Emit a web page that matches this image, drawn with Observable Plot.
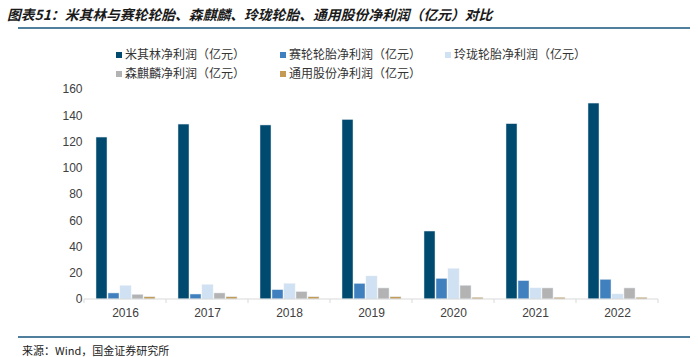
<!DOCTYPE html>
<html>
<head>
<meta charset="utf-8">
<script src="https://cdn.jsdelivr.net/npm/d3@7"></script>
<script src="https://cdn.jsdelivr.net/npm/@observablehq/plot@0.6"></script>
<style>
  html, body { margin: 0; padding: 0; background: #fff; }
  #wrap { position: relative; width: 698px; height: 357px; overflow: hidden; font-family: "Noto Sans CJK SC", "Noto Sans", sans-serif; }
  #title { position: absolute; left: 7px; top: 4px; font-size: 13.8px; font-weight: bold; font-style: italic; color: #1a1a1a; white-space: nowrap; }
  .hline { position: absolute; left: 18px; width: 672px; height: 2px; background: #4f7f9c; }
  #legend { position: absolute; left: 0; top: 0; width: 698px; height: 90px; font-size: 12px; color: #333; z-index: 2; }
  .li { position: absolute; white-space: nowrap; line-height: 14px; }
  .sw { display: inline-block; width: 6px; height: 6px; margin-right: 3px; vertical-align: 1px; }
  #chart { position: absolute; left: 0; top: 80px; }
  #source { position: absolute; left: 22px; top: 342px; font-size: 11px; color: #222; white-space: nowrap; font-family: "Noto Sans CJK SC", "DejaVu Sans Mono", monospace; }
</style>
</head>
<body>
<div id="wrap">
  <div id="title">图表51：米其林与赛轮轮胎、森麒麟、玲珑轮胎、通用股份净利润（亿元）对比</div>
  <div class="hline" style="top:27px"></div>
  <div id="chart"></div>
  <div id="legend"></div>
  <div class="hline" style="top:336px"></div>
  <div id="source">来源：Wind，国金证券研究所</div>
</div>
<script>
const years = ["2016", "2017", "2018", "2019", "2020", "2021", "2022"];
const seriesNames = ["米其林净利润（亿元）", "赛轮轮胎净利润（亿元）", "玲珑轮胎净利润（亿元）", "森麒麟净利润（亿元）", "通用股份净利润（亿元）"];
const michelin = [123.4, 133.3, 132.6, 136.8, 51.8, 133.6, 149.3];
const sailun   = [4.6, 3.8, 7.1, 11.9, 15.7, 14.0, 15.0];
const linglong = [10.1, 10.9, 11.7, 17.5, 23.1, 8.4, 3.8];
const senqilin = [3.5, 4.6, 5.6, 8.4, 10.4, 8.4, 8.4];
const general  = [1.7, 1.7, 1.7, 1.7, 1.3, 1.3, 1.3];
const yTicks = [0, 20, 40, 60, 80, 100, 120, 140, 160];
const colors = ["#004a6f", "#4080bf", "#cfe1f2", "#b3b3b3", "#c49a55"];

const seriesValues = [michelin, sailun, linglong, senqilin, general];
const data = [];
years.forEach((yr, i) => {
  seriesNames.forEach((s, j) => data.push({year: yr, series: s, value: seriesValues[j][i]}));
});

// Legend
const legendPos = [[116, 47], [280, 47], [445, 47], [116, 66], [280, 66]];
const legend = document.getElementById("legend");
seriesNames.forEach((s, j) => {
  const d = document.createElement("div");
  d.className = "li";
  d.style.left = legendPos[j][0] + "px";
  d.style.top = legendPos[j][1] + "px";
  d.innerHTML = `<span class="sw" style="background:${colors[j]}"></span>${s}`;
  legend.appendChild(d);
});

const W = 698, H = 245, mL = 84, mR = 40, mT = 9, mB = 26;
const plot = Plot.plot({
  width: W,
  height: H,
  marginLeft: mL,
  marginRight: mR,
  marginTop: mT,
  marginBottom: mB,
  style: {fontFamily: "Liberation Sans, Arial, sans-serif", fontSize: "12px", color: "#404040", background: "transparent"},
  fx: {domain: years, paddingInner: 0.22, paddingOuter: 0.11, label: null},
  x: {domain: seriesNames, paddingInner: 0.1, paddingOuter: 0.05, axis: null},
  y: {domain: [0, 160], label: null},
  color: {domain: seriesNames, range: colors},
  marks: [
    Plot.axisY({ticks: yTicks, tickSize: 0, tickPadding: 11, label: null, fill: "#404040", fontSize: 12}),
    Plot.axisFx({anchor: "bottom", tickSize: 0, tickPadding: 9, label: null, fill: "#404040", fontSize: 12}),
    Plot.barY(data, {fx: "year", x: "series", y: "value", fill: "series", stroke: "#dfe8ef", strokeWidth: 0.5})
  ]
});
document.getElementById("chart").appendChild(plot);

// baseline with boundary ticks, positioned via the plot's own scales
const ys = plot.scale("y");
const svg = d3.select(plot);
const y0 = ys.apply(0);
const step = (W - mL - mR) / years.length;
svg.append("line").attr("x1", mL).attr("x2", W - mR).attr("y1", y0).attr("y2", y0)
  .attr("stroke", "#d9d9d9").attr("stroke-width", 1.2);
for (let i = 0; i <= years.length; i++) {
  const x = mL + i * step;
  svg.append("line").attr("x1", x).attr("x2", x).attr("y1", y0).attr("y2", y0 + 4)
    .attr("stroke", "#d9d9d9").attr("stroke-width", 1);
}
</script>
</body>
</html>
